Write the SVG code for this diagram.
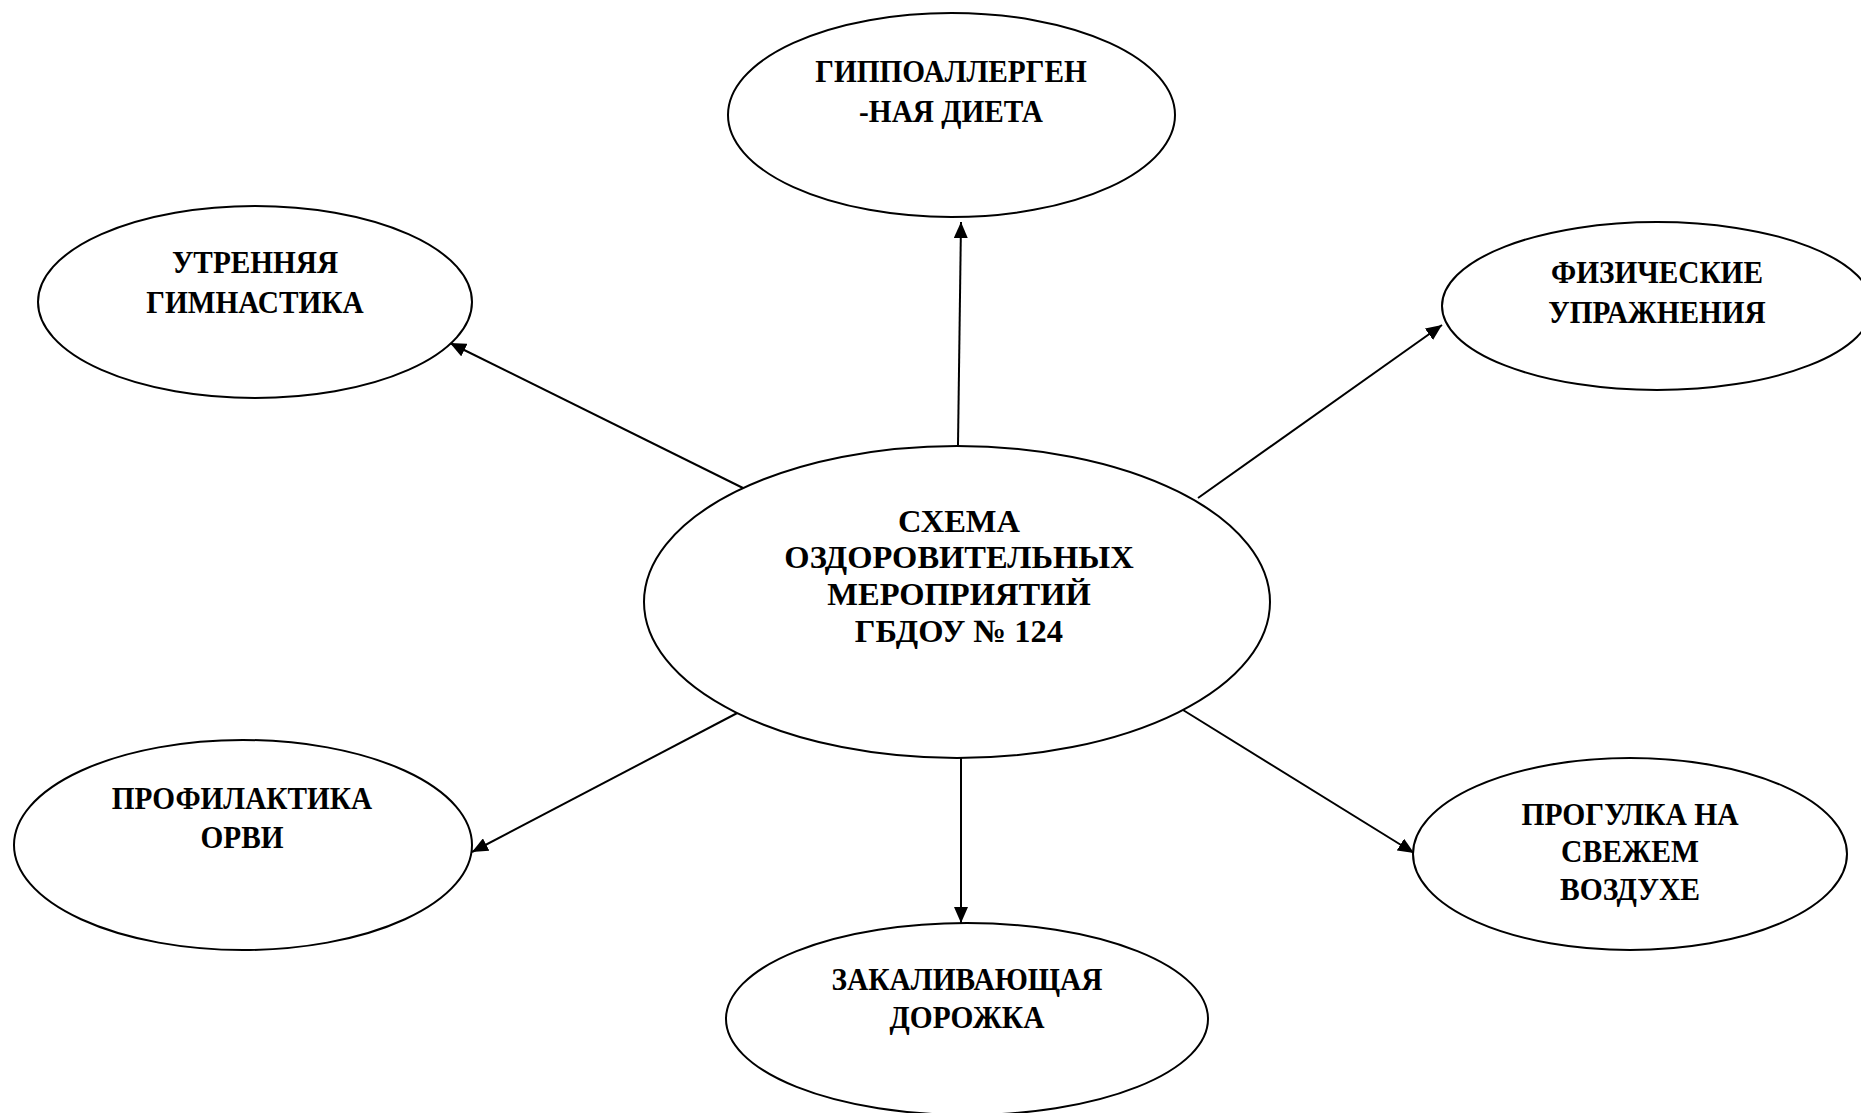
<svg xmlns="http://www.w3.org/2000/svg" width="1861" height="1113" viewBox="0 0 1861 1113">
<style>
.node ellipse{fill:#fff;stroke:#000;stroke-width:2}
.node text{font-family:"Liberation Serif","Times New Roman",serif;font-weight:bold;font-size:31px;fill:#000;text-anchor:middle}
.node .big{font-size:32.5px}
.conn line{stroke:#000;stroke-width:2}
</style>
<defs>
<marker id="arr" viewBox="0 0 16 14" refX="16" refY="7" markerWidth="16" markerHeight="14" markerUnits="userSpaceOnUse" orient="auto">
<path d="M0,0 L16,7 L0,14 Z" fill="#000"/>
</marker>
</defs>
<rect width="1861" height="1113" fill="#fff"/>
<g id="connectors" class="conn">
<line x1="958" y1="445" x2="961" y2="222" marker-end="url(#arr)"/>
<line x1="743" y1="488" x2="450" y2="343" marker-end="url(#arr)"/>
<line x1="1198" y1="498" x2="1442" y2="325" marker-end="url(#arr)"/>
<line x1="743" y1="710" x2="472" y2="852" marker-end="url(#arr)"/>
<line x1="961" y1="758" x2="961" y2="923" marker-end="url(#arr)"/>
<line x1="1183" y1="710" x2="1414" y2="853" marker-end="url(#arr)"/>
</g>
<g id="node-top" class="node">
<ellipse cx="951.5" cy="115" rx="223.5" ry="102"/>
<g transform="translate(951 0) scale(0.945 1)">
<text x="0" y="82">ГИППОАЛЛЕРГЕН</text>
<text x="0" y="122">-НАЯ ДИЕТА</text>
</g>
</g>
<g id="node-topleft" class="node">
<ellipse cx="255" cy="302" rx="217" ry="96"/>
<g transform="translate(255 0) scale(0.945 1)">
<text x="0" y="273">УТРЕННЯЯ</text>
<text x="0" y="313">ГИМНАСТИКА</text>
</g>
</g>
<g id="node-topright" class="node">
<ellipse cx="1657" cy="306" rx="215" ry="84"/>
<g transform="translate(1657 0) scale(0.945 1)">
<text x="0" y="283">ФИЗИЧЕСКИЕ</text>
<text x="0" y="323">УПРАЖНЕНИЯ</text>
</g>
</g>
<g id="node-center" class="node">
<ellipse cx="957" cy="602" rx="313" ry="156"/>
<text class="big" x="959" y="532">СХЕМА</text>
<text class="big" x="959" y="568">ОЗДОРОВИТЕЛЬНЫХ</text>
<text class="big" x="959" y="605">МЕРОПРИЯТИЙ</text>
<text class="big" x="959" y="642">ГБДОУ № 124</text>
</g>
<g id="node-bottomleft" class="node">
<ellipse cx="243" cy="845" rx="229" ry="105"/>
<g transform="translate(242 0) scale(0.945 1)">
<text x="0" y="809">ПРОФИЛАКТИКА</text>
<text x="0" y="848">ОРВИ</text>
</g>
</g>
<g id="node-bottom" class="node">
<ellipse cx="967" cy="1019" rx="241" ry="96"/>
<g transform="translate(967 0) scale(0.95 1)">
<text x="0" y="990">ЗАКАЛИВАЮЩАЯ</text>
<text x="0" y="1028">ДОРОЖКА</text>
</g>
</g>
<g id="node-bottomright" class="node">
<ellipse cx="1630" cy="854" rx="217" ry="96"/>
<g transform="translate(1630 0) scale(0.955 1)">
<text x="0" y="825">ПРОГУЛКА НА</text>
<text x="0" y="862">СВЕЖЕМ</text>
<text x="0" y="900">ВОЗДУХЕ</text>
</g>
</g>
</svg>
